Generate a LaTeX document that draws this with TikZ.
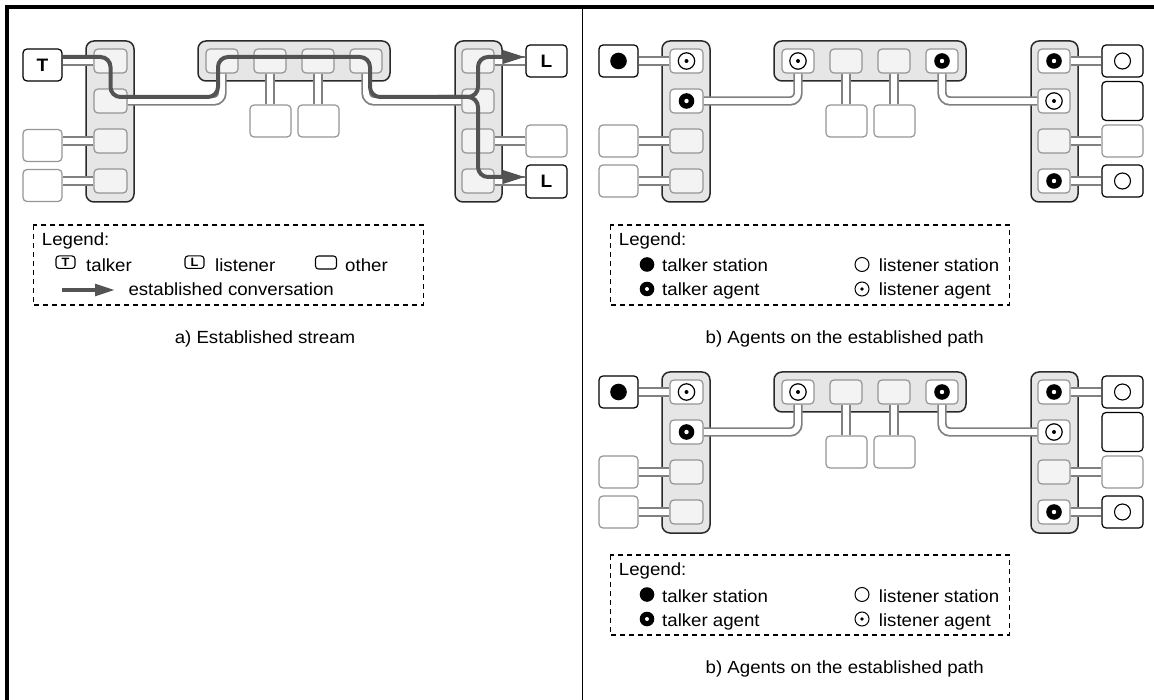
\documentclass[tikz,border=0pt]{standalone}
\usepackage{fontspec}
\setmainfont{Liberation Sans}[FakeStretch=1.06]
\usetikzlibrary{arrows.meta,calc}

\pgfdeclarelayer{sw}
\pgfdeclarelayer{lnk}
\pgfsetlayers{sw,lnk,main}

\definecolor{swfill}{HTML}{E6E6E6}
\definecolor{swline}{HTML}{2A2A2A}
\definecolor{portfill}{HTML}{F3F3F3}
\definecolor{boxgray}{HTML}{959595}
\definecolor{linkgray}{HTML}{808080}
\definecolor{convgray}{HTML}{535353}

\newcommand\txt{\fontsize{17.6}{20}\selectfont}

\tikzset{
  switchbox/.style={draw=swline, fill=swfill, line width=1.5pt, rounded corners=8pt, inner sep=0pt},
  portbox/.style={draw=boxgray, fill=portfill, line width=1.2pt, rounded corners=4pt,
    minimum width=32pt, minimum height=24pt, inner sep=0pt},
  station/.style={draw=boxgray, fill=white, line width=1.2pt, rounded corners=4pt,
    minimum width=40pt, minimum height=32pt, inner sep=0pt},
  endstation/.style={station, draw=black, font=\bfseries\fontsize{18}{20}\selectfont},
  link/.style={draw=linkgray, line width=1.8pt, double=white, double distance=5.8pt, rounded corners=8pt},
  conv/.style={draw=convgray, line width=4pt, rounded corners=10pt, -{Triangle[length=23pt,width=13pt]}},
  legconv/.style={draw=convgray, line width=4pt, -{Triangle[length=20pt,width=11.5pt]}},
  legbox/.style={draw=black, line width=1.2pt, dash pattern=on 5pt off 4pt},
  legtext/.style={font=\txt, anchor=base west, inner sep=0pt},
  caption/.style={font=\txt, anchor=base, inner sep=0pt},
  legicon/.style={draw=black, line width=1.1pt, rounded corners=3pt, inner sep=0pt,
    minimum width=19pt, minimum height=12.5pt, font=\bfseries\fontsize{12}{12}\selectfont},
}

% agent symbols
\newcommand\tstation[1]{\fill (#1) circle (8.3pt);}
\newcommand\tagent[1]{\fill (#1) circle (7.8pt); \fill[white] (#1) circle (2.2pt);}
\newcommand\lagent[1]{\draw[line width=1.2pt, fill=white] (#1) circle (8.2pt); \fill (#1) circle (2pt);}
\newcommand\lstation[1]{\draw[line width=1.1pt] (#1) circle (8pt);}

% three switches with their ports, the stations shared by all views and their links
% #1: name prefix, #2: vertical offset of the two spare stations on the left
\newcommand\netcore[2]{%
  \begin{pgfonlayer}{sw}
    \node[switchbox, minimum width=48pt, minimum height=161pt] (#1lsw) at (110,121.5) {};
    \node[switchbox, minimum width=192pt, minimum height=40pt] (#1msw) at (294,61) {};
    \node[switchbox, minimum width=47pt, minimum height=161pt] (#1rsw) at (478.5,121.5) {};
  \end{pgfonlayer}
  \node[portbox, minimum width=33pt, lp1 look/.try] (#1lp1) at (110.5,61) {};
  \node[portbox, minimum width=33pt, lp2 look/.try] (#1lp2) at (110.5,101) {};
  \node[portbox, minimum width=33pt] (#1lp3) at (110.5,141) {};
  \node[portbox, minimum width=33pt] (#1lp4) at (110.5,181) {};
  \node[portbox, mp1 look/.try] (#1mp1) at (222,61) {};
  \node[portbox] (#1mp2) at (270,61) {};
  \node[portbox] (#1mp3) at (318,61) {};
  \node[portbox, mp4 look/.try] (#1mp4) at (366,61) {};
  \node[portbox, rp1 look/.try] (#1rp1) at (478,61) {};
  \node[portbox, rp2 look/.try] (#1rp2) at (478,101) {};
  \node[portbox] (#1rp3) at (478,141) {};
  \node[portbox, rp4 look/.try] (#1rp4) at (478,181) {};
  \node[station, minimum width=41pt] (#1ms2) at (270.5,121) {};
  \node[station, minimum width=41pt] (#1ms3) at (318.5,121) {};
  \node[station, minimum width=39pt] (#1ls3) at (42.5,141+#2) {};
  \node[station, minimum width=39pt] (#1ls4) at (42.5,181+#2) {};
  \node[station, minimum width=41pt] (#1rs3) at (546.5,141) {};
  \begin{pgfonlayer}{lnk}
    \draw[link] (#1lp2.east) -| (#1mp1.south);
    \draw[link] (#1mp4.south) |- (#1rp2.west);
    \draw[link] (#1mp2.south) -- (#1mp2.south |- #1ms2.north);
    \draw[link] (#1mp3.south) -- (#1mp3.south |- #1ms3.north);
    \draw[link] (#1lp3.west) -- (#1lp3.west -| #1ls3.east);
    \draw[link] (#1lp4.west) -- (#1lp4.west -| #1ls4.east);
    \draw[link] (#1rp3.east) -- (#1rp3.east -| #1rs3.west);
  \end{pgfonlayer}
}

% the network with talker and listener agents marked
\newcommand\agentpanel[1]{%
  \netcore{#1}{0}
  \node[endstation, minimum width=39pt] (#1ts) at (42.5,61) {};
  \node[endstation, minimum width=41pt] (#1rs1) at (546.5,61) {};
  \node[endstation, minimum width=41pt, minimum height=39pt] (#1rs2) at (546.5,101) {};
  \node[endstation, minimum width=41pt] (#1rs4) at (546.5,181) {};
  \begin{pgfonlayer}{lnk}
    \draw[link] (#1lp1.west) -- (#1lp1.west -| #1ts.east);
    \draw[link] (#1rp1.east) -- (#1rp1.east -| #1rs1.west);
    \draw[link] (#1rp4.east) -- (#1rp4.east -| #1rs4.west);
  \end{pgfonlayer}
  \tstation{#1ts}
  \lagent{#1lp1}
  \tagent{#1lp2}
  \lagent{#1mp1}
  \tagent{#1mp4}
  \tagent{#1rp1}
  \lagent{#1rp2}
  \tagent{#1rp4}
  \lstation{#1rs1}
  \lstation{#1rs4}
}

% legend of the agent views
\newcommand\agentlegend[1]{%
  \draw[legbox] (610.3,225) rectangle (1009.3,305);
  \node[legtext] (#1leg) at (618.7,245.5) {Legend:};
  \fill (647,264.5) circle (7.3pt);
  \node[legtext] (#1ltst) at (662,272) {talker station};
  \draw[line width=1pt] (862,264.5) circle (7pt);
  \node[legtext] (#1llst) at (878.7,272) {listener station};
  \fill (647,289) circle (7.3pt); \fill[white] (647,289) circle (2pt);
  \node[legtext] (#1ltag) at (662,296) {talker agent};
  \draw[line width=1pt] (862,289) circle (7pt); \fill (862,289) circle (1.8pt);
  \node[legtext] (#1llag) at (878.7,296) {listener agent};
}

\begin{document}
\begin{tikzpicture}[x=1pt, y=-1pt]
  \useasboundingbox (0,0) rectangle (1154,700);

  % frame and divider
  \draw[line width=4pt] (7,700) -- (7,7) -- (1156,7);
  \draw[line width=1.3pt] (582.3,7) -- (582.3,700);

  % ---- a) established stream ----
  \netcore{a}{4.5}
  \node[endstation, minimum width=39pt] (aT) at (42.5,65) {T};
  \node[endstation, minimum width=41pt] (aL1) at (546.5,61) {L};
  \node[endstation, minimum width=41pt, minimum height=33pt] (aL2) at (546.5,181.5) {L};
  \begin{pgfonlayer}{lnk}
    \draw[link] (alp1.west) -- (alp1.west -| aT.east);
    \draw[link] (arp1.east) -- (arp1.east -| aL1.west);
    \draw[link] (arp4.east) -- (arp4.east -| aL2.west);
  \end{pgfonlayer}
  \draw[conv] ($(alp1.center -| aT.east)+(0,-4)$) -- ($(alp1.center)+(0,-4)$)
    -- ($(alp2.center)+(0,-4)$) -- ($(alp2.center -| amp1.center)+(-4,-4)$)
    -- ($(amp1.center)+(-4,-4)$) -- ($(amp4.center)+(4,-4)$)
    -- ($(arp2.center -| amp4.center)+(4,-4)$) -- ($(arp2.center)+(0,-4)$)
    -- ($(arp1.center)+(0,-4)$) -- ($(arp1.center -| aL1.west)+(0,-4)$);
  \draw[conv] ($(arp2.center)+(-40,-4)$) -- ($(arp2.center)+(0,-4)$)
    -- ($(arp4.center)+(0,-4)$) -- ($(arp4.center -| aL2.west)+(0,-4)$);

  % legend a
  \draw[legbox] (33.3,225) rectangle (423.3,305);
  \node[legtext] (aleg) at (41.7,245.5) {Legend:};
  \node[legicon] (aiT) at (65.5,262.2) {T};
  \node[legtext] (aitx) at (86,272) {talker};
  \node[legicon] (aiL) at (194.5,262.2) {L};
  \node[legtext] (ailx) at (215,272) {listener};
  \node[legicon, minimum width=21pt, minimum height=13pt] (aiO) at (326,262.5) {};
  \node[legtext] (aiox) at (345,272) {other};
  \coordinate (aca) at (62,290);
  \coordinate (acb) at (115,290);
  \draw[legconv] (aca) -- (acb);
  \node[legtext] (acx) at (128.3,295.5) {established conversation};
  \node[caption] (acap) at (265,344) {a) Established stream};

  % ---- b) agents, upper view ----
  \begin{scope}[shift={(576,0)}, lp1 look/.style={fill=white}, lp2 look/.style={fill=white},
      mp1 look/.style={fill=white}, mp4 look/.style={fill=white}, rp1 look/.style={fill=white},
      rp2 look/.style={fill=white}, rp4 look/.style={fill=white}]
    \agentpanel{b}
  \end{scope}
  \agentlegend{b}
  \node[caption] (bcap) at (844.7,343.5) {b) Agents on the established path};

  % ---- b) agents, lower view ----
  \begin{scope}[shift={(576,331)}, lp1 look/.style={fill=white}, lp2 look/.style={fill=white},
      mp1 look/.style={fill=white}, mp4 look/.style={fill=white}, rp1 look/.style={fill=white},
      rp2 look/.style={fill=white}, rp4 look/.style={fill=white}]
    \agentpanel{c}
  \end{scope}
  \begin{scope}[shift={(0,330)}]
    \agentlegend{c}
    \node[caption] (ccap) at (844.7,343.5) {b) Agents on the established path};
  \end{scope}
\end{tikzpicture}
\end{document}
